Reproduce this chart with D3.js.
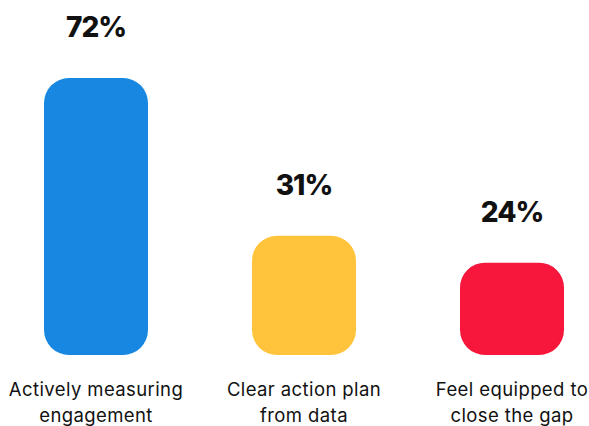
<!DOCTYPE html>
<html><head><meta charset="utf-8">
<script src="https://cdn.jsdelivr.net/npm/d3@7"></script>
<style>html,body{margin:0;padding:0;background:#fff;}svg{display:block;}</style>
</head><body>
<svg id="c" width="589" height="426"></svg>
<script>
const categories = [["Actively measuring","engagement"],["Clear action plan","from data"],["Feel equipped to","close the gap"]];
const values = [72, 31, 24];
const colors = ["#1787E1", "#FFC43B", "#F7163C"];

const svg = d3.select("#c");
const x = d3.scaleBand().domain(d3.range(values.length)).range([-8, 616]).paddingInner(0.5).paddingOuter(0.25);
const y = d3.scaleLinear().domain([0, 72]).range([355, 78]);

const g = svg.append("g");
g.selectAll("rect").data(values).join("rect")
  .attr("x", (d,i)=>x(i))
  .attr("width", x.bandwidth())
  .attr("y", d=>y(d))
  .attr("height", d=>y(0)-y(d))
  .attr("rx", 25).attr("ry", 25)
  .attr("fill", (d,i)=>colors[i]);

g.selectAll("text.v").data(values).join("text").attr("class","v")
  .attr("x", (d,i)=>x(i)+x.bandwidth()/2)
  .attr("y", d=>y(d)-41)
  .attr("text-anchor","middle")
  .attr("font-family","Inter, 'Open Sans', sans-serif")
  .attr("font-weight", 800)
  .attr("font-size", 28)
  .attr("letter-spacing", -1)
  .attr("fill","#111")
  .text(d=>d+"%");

const cl = g.selectAll("text.c").data(categories).join("text").attr("class","c")
  .attr("text-anchor","middle")
  .attr("font-family","Inter, 'Open Sans', sans-serif")
  .attr("font-size", 18.5)
  .attr("letter-spacing", 0.4)
  .attr("fill","#111");
cl.selectAll("tspan").data((d,i)=>d.map(t=>({t,i}))).join("tspan")
  .attr("x", d=>x(d.i)+x.bandwidth()/2)
  .attr("y", (d,j)=>396 + j*26)
  .text(d=>d.t);
</script>
</body></html>
